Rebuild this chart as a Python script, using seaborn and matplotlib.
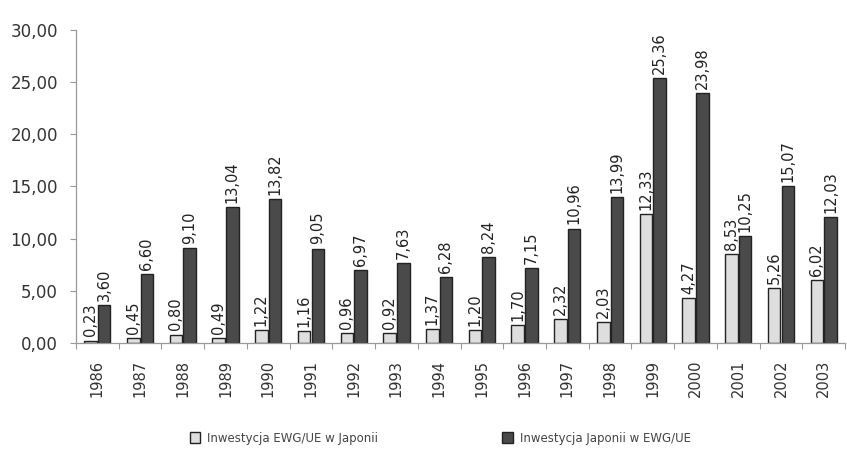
import matplotlib
matplotlib.use("Agg")
import matplotlib.pyplot as plt
import seaborn as sns
import pandas as pd
import numpy as np

years = [str(y) for y in range(1986, 2004)]
ewg_in_japan = [0.23, 0.45, 0.80, 0.49, 1.22, 1.16, 0.96, 0.92, 1.37, 1.20,
                1.70, 2.32, 2.03, 12.33, 4.27, 8.53, 5.26, 6.02]
japan_in_ewg = [3.60, 6.60, 9.10, 13.04, 13.82, 9.05, 6.97, 7.63, 6.28, 8.24,
                7.15, 10.96, 13.99, 25.36, 23.98, 10.25, 15.07, 12.03]
series_names = ["Inwestycja EWG/UE w Japonii", "Inwestycja Japonii w EWG/UE"]
yticks = [0, 5, 10, 15, 20, 25, 30]

df = pd.DataFrame({
    "year": years * 2,
    "value": ewg_in_japan + japan_in_ewg,
    "series": [series_names[0]] * len(years) + [series_names[1]] * len(years),
})

sns.set_theme(style="white")
plt.rcParams["font.family"] = ["DejaVu Sans"]

fig = plt.figure(figsize=(8.47, 4.54), dpi=100)
ax = fig.add_axes([0.0897, 0.2445, 0.908, 0.6895])

sns.barplot(data=df, x="year", y="value", hue="series", order=years,
            hue_order=series_names,
            palette=["#dedede", "#4a4a4a"], width=0.64, gap=0.08,
            edgecolor="#222222", linewidth=1.0, ax=ax, legend=True)

for cont in ax.containers:
    vals = [b.get_height() for b in cont]
    ax.bar_label(cont, labels=[f"{v:.2f}".replace(".", ",") for v in vals],
                 rotation=90, padding=3, fontsize=10.5, color="#222222")

ax.set_ylim(0, 30)
ax.set_xlim(-0.5, len(years) - 0.5)
ax.set_yticks(yticks)
ax.set_yticklabels([f"{v:.2f}".replace(".", ",") for v in yticks],
                   fontsize=12, color="#333333")
ax.set_xticks(range(len(years)))
ax.set_xticklabels(years, rotation=90, fontsize=10.5, color="#333333")
ax.set_xticks(np.arange(-0.5, len(years), 1.0), minor=True)
ax.tick_params(axis="x", which="major", length=0, pad=12)
ax.tick_params(axis="x", which="minor", length=4, color="#999999", width=0.8,
               direction="out", bottom=True)
ax.tick_params(axis="y", length=4, color="#999999", width=0.8, direction="out",
               left=True, pad=9)
ax.set_xlabel("")
ax.set_ylabel("")
for s in ["top", "right"]:
    ax.spines[s].set_visible(False)
for s in ["left", "bottom"]:
    ax.spines[s].set_color("#999999")
    ax.spines[s].set_linewidth(0.9)

leg = ax.get_legend()
handles = leg.legend_handles
leg.remove()
fig.legend(handles, series_names, loc="center", bbox_to_anchor=(0.52, 0.035),
           ncol=2, frameon=False, fontsize=8.5, handlelength=0.9,
           handleheight=1.0, handletextpad=0.6, columnspacing=10.5,
           labelcolor="#444444")

fig.savefig("out.png", dpi=100)
